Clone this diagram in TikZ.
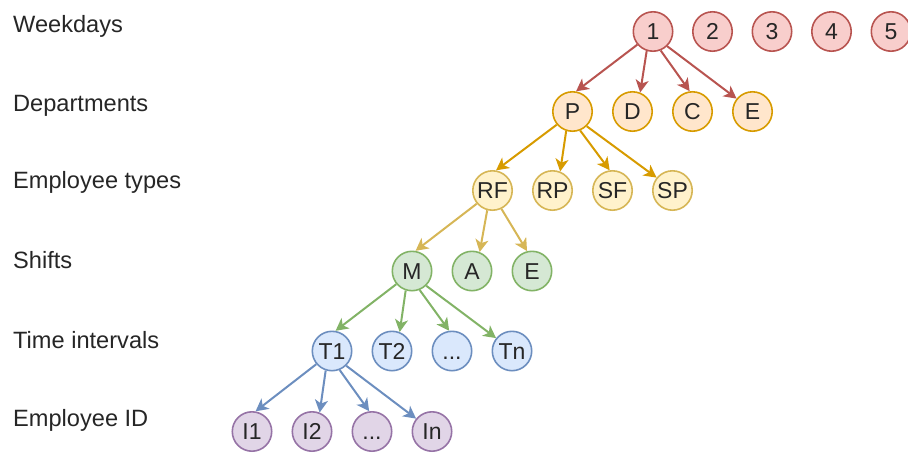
\documentclass[tikz,border=0pt]{standalone}
\usepackage{fontspec}
\setmainfont{Liberation Sans}
\usetikzlibrary{arrows.meta}
\definecolor{redS}{HTML}{B85450}\definecolor{redF}{HTML}{F8CECC}
\definecolor{orgS}{HTML}{D79B00}\definecolor{orgF}{HTML}{FFE6CC}
\definecolor{yelS}{HTML}{D6B656}\definecolor{yelF}{HTML}{FFF2CC}
\definecolor{grnS}{HTML}{82B366}\definecolor{grnF}{HTML}{D5E8D4}
\definecolor{bluS}{HTML}{6C8EBF}\definecolor{bluF}{HTML}{DAE8FC}
\definecolor{purS}{HTML}{9673A6}\definecolor{purF}{HTML}{E1D5E7}
\definecolor{txt}{HTML}{262626}
\tikzset{
  circ/.style={circle, draw, line width=1.6pt, minimum size=39.4pt, inner sep=0pt,
    font=\fontsize{23}{27}\selectfont, text=txt, text height=16.5pt, text depth=0pt},
  rnode/.style={circ, draw=redS, fill=redF},
  onode/.style={circ, draw=orgS, fill=orgF},
  ynode/.style={circ, draw=yelS, fill=yelF},
  gnode/.style={circ, draw=grnS, fill=grnF},
  bnode/.style={circ, draw=bluS, fill=bluF},
  pnode/.style={circ, draw=purS, fill=purF},
  lbl/.style={anchor=base west, inner sep=0pt, font=\fontsize{23.6}{27}\selectfont, text=txt},
  arr/.style={line width=2pt, -{Stealth[length=12.5pt,width=13pt,inset=3.5pt]}}
}
\begin{document}
\begin{tikzpicture}[x=1pt,y=-1pt]
\useasboundingbox (0,0) rectangle (908,453);
% labels
\node[lbl] (l1) at (13,32.7) {Weekdays};
\node[lbl] (l2) at (13,111.7) {Departments};
\node[lbl] (l3) at (13,188.5) {Employee types};
\node[lbl] (l4) at (13,268) {Shifts};
\node[lbl] (l5) at (13,348) {Time intervals};
\node[lbl] (l6) at (13,426.7) {Employee ID};
% row 0
\node[rnode] (w1) at (653,31.5) {1};
\node[rnode] (w2) at (712.5,31.5) {2};
\node[rnode] (w3) at (772,31.5) {3};
\node[rnode] (w4) at (831.5,31.5) {4};
\node[rnode] (w5) at (891,31.5) {5};
% row 1
\node[onode] (dP) at (572.5,111.5) {P};
\node[onode] (dD) at (632.5,111.5) {D};
\node[onode] (dC) at (692.5,111.5) {C};
\node[onode] (dE) at (752.5,111.5) {E};
% row 2
\node[ynode] (eRF) at (492.5,190.5) {RF};
\node[ynode] (eRP) at (552.5,190.5) {RP};
\node[ynode] (eSF) at (612.5,190.5) {SF};
\node[ynode] (eSP) at (672.5,190.5) {SP};
% row 3
\node[gnode] (sM) at (412,271) {M};
\node[gnode] (sA) at (472,271) {A};
\node[gnode] (sE) at (532,271) {E};
% row 4
\node[bnode] (t1) at (332,351) {T1};
\node[bnode] (t2) at (392,351) {T2};
\node[bnode] (t3) at (452,351) {...};
\node[bnode] (tn) at (512,351) {Tn};
% row 5
\node[pnode] (i1) at (252,431.5) {I1};
\node[pnode] (i2) at (312,431.5) {I2};
\node[pnode] (i3) at (372,431.5) {...};
\node[pnode] (iN) at (432,431.5) {In};
% arrows
\draw[arr, redS] (w1.220) -- (dP.80);
\draw[arr, redS] (w1.252) -- (dD.68);
\draw[arr, redS] (w1.292) -- (dC.98);
\draw[arr, redS] (w1.314) -- (dE.141);
\draw[arr, orgS] (dP.220) -- (eRF.80);
\draw[arr, orgS] (dP.252) -- (eRP.68);
\draw[arr, orgS] (dP.292) -- (eSF.98);
\draw[arr, orgS] (dP.314) -- (eSP.141);
\draw[arr, yelS] (eRF.220) -- (sM.80);
\draw[arr, yelS] (eRF.255) -- (sA.68);
\draw[arr, yelS] (eRF.296) -- (sE.104);
\draw[arr, grnS] (sM.220) -- (t1.80);
\draw[arr, grnS] (sM.252) -- (t2.68);
\draw[arr, grnS] (sM.292) -- (t3.98);
\draw[arr, grnS] (sM.314) -- (tn.141);
\draw[arr, bluS] (t1.220) -- (i1.80);
\draw[arr, bluS] (t1.252) -- (i2.68);
\draw[arr, bluS] (t1.292) -- (i3.98);
\draw[arr, bluS] (t1.314) -- (iN.141);
\end{tikzpicture}
\end{document}
